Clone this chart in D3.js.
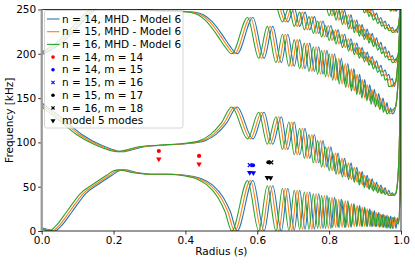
<!DOCTYPE html>
<html><head><meta charset="utf-8">
<script src="https://cdn.jsdelivr.net/npm/d3@7"></script>
<style>body{margin:0;background:#fff} svg{display:block;font-family:"DejaVu Sans",sans-serif}</style>
</head><body><svg id="c" width="415" height="264"></svg>
<script>
// ---------------- DATA ----------------
const seriesNames = ["n = 14, MHD - Model 6", "n = 15, MHD - Model 6", "n = 16, MHD - Model 6"];
// radial offset of each toroidal-mode continuum relative to n = 16
const seriesRadiusShift = [0.015, 0.008, 0.0];

// radii of the oscillation extrema of the n = 16 continuum
const oscRadius = [0.529, 0.573, 0.604, 0.628, 0.652, 0.670, 0.688, 0.703, 0.718, 0.731,
  0.744, 0.756, 0.768, 0.779, 0.790, 0.800, 0.810, 0.819, 0.828, 0.837,
  0.846, 0.854, 0.862, 0.870, 0.877, 0.884, 0.891, 0.898, 0.905, 0.911,
  0.917, 0.923, 0.929, 0.935, 0.941, 0.946, 0.951, 0.956, 0.961, 0.966,
  0.971, 0.976];

// branch 1 (lowest)
const branch1Lead = [[-0.02,4],[0,2],[0.01,1],[0.021,0],[0.04,6],[0.07,22],[0.107,42],[0.144,53],[0.181,63],[0.2,68],[0.215,69],[0.25,66],[0.3,64],[0.35,64],[0.4,62],[0.43,59],[0.46,52],[0.49,38],[0.51,22]];
const branch1Start = 0;
const branch1Osc = [0,57,0,51,0,48,1,46,2,44,2,42,3,40,3,38,4,36,4,34,4,31,5,29,5,27,5,25,5,23,5,21,5,19,4,18,4,17,3,16,3,15];
const branch1Tail = [[0.993,8],[0.997,40],[0.9995,260]];

// branch 2
const branch2Lead = [[-0.02,146],[0,140],[0.03,131],[0.06,121],[0.1,108],[0.15,97],[0.19,91],[0.21,89.5],[0.23,91],[0.27,95],[0.33,97],[0.40,99],[0.44,102],[0.47,109],[0.50,122]];
const branch2Start = 0;
const branch2Osc = [140,104,134,98,129,92,123,86,116,82,109,77,102,72,95,68,88,64,82,61,77,58,72,55,67,52,63,49,59,47,55,45,52,43,49,42,46,41,43,40];
const branch2Tail = [[0.985,42],[0.991,58],[0.996,110],[0.9995,260]];

// branch 3
const branch3Lead = [[-0.02,198],[0,202],[0.04,212],[0.08,228],[0.12,245],[0.16,256],[0.2,259],[0.25,252],[0.3,249],[0.36,248],[0.40,247.5],[0.43,245],[0.46,236],[0.49,220],[0.51,208]];
const branch3Start = 0;
const branch3Osc = [200,241,195,231,190,222,186,216,183,212,180,208,177,204,174,200,170,195,166,189,162,183,158,177,154,171,150,165,147,160,143,155,140,150,137,145,134,139,132,134];
const branch3Tail = [[0.985,140],[0.992,170],[0.997,220],[0.9995,260]];

// branch 4
const branch4Lead = [[0.64,262]];
const branch4Start = 4;
const branch4Osc = [255,236,252,231,247,227,242,223,237,219,232,215,227,211,222,207,217,203,212,199,207,195,202,191,197,187,192,183,187,179,182,175,177,170,172,163];
const branch4Tail = [[0.985,168],[0.992,195],[0.997,235],[0.9995,260]];

// branch 5
const branch5Lead = [[0.78,264]];
const branch5Start = 14;
const branch5Osc = [258,243,254,238,249,233,244,228,238,224,233,220,228,216,223,212,218,208,213,204,208,200,203,196,198,193,194,190];
const branch5Tail = [[0.993,200],[0.997,230],[0.9995,260]];

// branch 6
const branch6Lead = [[0.868,264]];
const branch6Start = 24;
const branch6Osc = [258,250,256,246,251,242,246,238,241,234,237,231,233,228,230,226,227,224];
const branch6Tail = [[0.993,232],[0.9975,250],[0.9995,262]];

// branch 7
const branch7Lead = [[0.94,264]];
const branch7Start = 35;
const branch7Osc = [258,253,256,250,253,248,250];
const branch7Tail = [[0.993,250],[0.998,262]];

// measured modes [radius, frequency kHz]
const modeN14M14 = [[0.326, 90.3], [0.438, 84.7]];
const modeN14M15 = [[0.588, 74.2]];
const modeN15M16 = [[0.579, 74.4]];
const modeN15M17 = [[0.631, 77.6]];
const modeN16M18 = [[0.639, 77.4]];
// model 5 modes (grouped by the mode they belong to)
const model5Red = [[0.326, 81.3], [0.438, 75.6]];
const model5Blue = [[0.579, 65.8], [0.589, 65.6]];
const model5Black = [[0.628, 60.2], [0.637, 60.0]];

const xTicks = [0, 0.2, 0.4, 0.6, 0.8, 1.0];
const yTicks = [0, 50, 100, 150, 200, 250];

// ---------------- STYLE / LAYOUT ----------------
const colors = ["#1f77b4", "#ff7f0e", "#2ca02c"];
const FS = 10.5;
const x = d3.scaleLinear().domain([0, 1]).range([41.7, 401]);
const y = d3.scaleLinear().domain([0, 250]).range([231, 9.5]);
const svg = d3.select("#c");

svg.append("defs").append("clipPath").attr("id", "clip")
  .append("rect").attr("x", x(0)).attr("y", y(250)).attr("width", x(1) - x(0)).attr("height", y(0) - y(250));

const branches = [
  [branch1Lead, branch1Start, branch1Osc, branch1Tail],
  [branch2Lead, branch2Start, branch2Osc, branch2Tail],
  [branch3Lead, branch3Start, branch3Osc, branch3Tail],
  [branch4Lead, branch4Start, branch4Osc, branch4Tail],
  [branch5Lead, branch5Start, branch5Osc, branch5Tail],
  [branch6Lead, branch6Start, branch6Osc, branch6Tail],
  [branch7Lead, branch7Start, branch7Osc, branch7Tail]
];

const line = d3.line().x(d => x(d[0])).y(d => y(d[1])).curve(d3.curveMonotoneX);
const gLines = svg.append("g").attr("clip-path", "url(#clip)");

seriesNames.forEach((name, si) => {
  const sh = seriesRadiusShift[si];
  branches.forEach(([lead, start, osc, tail]) => {
    const pts = lead.map(p => [p[0] + sh, p[1]])
      .concat(osc.map((f, i) => [oscRadius[start + i] + sh, f]))
      .concat(tail);
    gLines.append("path").datum(pts).attr("d", line)
      .attr("fill", "none").attr("stroke", colors[si]).attr("stroke-width", 1.1);
  });
});

// markers
const gM = svg.append("g");
function dots(data, color) {
  gM.selectAll(null).data(data).enter().append("circle")
    .attr("cx", d => x(d[0])).attr("cy", d => y(d[1])).attr("r", 2.1).attr("fill", color);
}
function crosses(data, color) {
  data.forEach(d => {
    const cx = x(d[0]), cy = y(d[1]), s = 1.9;
    gM.append("path").attr("d", `M${cx - s},${cy - s}L${cx + s},${cy + s}M${cx - s},${cy + s}L${cx + s},${cy - s}`)
      .attr("stroke", color).attr("stroke-width", 1.2);
  });
}
const tri = d3.symbol().type(d3.symbolTriangle).size(13);
function tris(data, color) {
  gM.selectAll(null).data(data).enter().append("path")
    .attr("d", tri).attr("transform", d => `translate(${x(d[0])},${y(d[1])}) rotate(180)`).attr("fill", color);
}
dots(modeN14M14, "red");
dots(modeN14M15, "blue");
crosses(modeN15M16, "blue");
dots(modeN15M17, "black");
crosses(modeN16M18, "black");
tris(model5Red, "red");
tris(model5Blue, "blue");
tris(model5Black, "black");

// axes
const xAxis = d3.axisBottom(x).tickValues(xTicks).tickFormat(d3.format(".1f")).tickSize(3.5).tickSizeOuter(0).tickPadding(2);
const yAxis = d3.axisLeft(y).tickValues(yTicks).tickFormat(d3.format("d")).tickSize(3.5).tickSizeOuter(0).tickPadding(2);
const gx = svg.append("g").attr("transform", `translate(0,${y(0)})`).call(xAxis);
const gy = svg.append("g").attr("transform", `translate(${x(0)},0)`).call(yAxis);
[gx, gy].forEach(g => {
  g.select(".domain").remove();
  g.selectAll("text").attr("font-size", FS).attr("fill", "#000").attr("font-family", "DejaVu Sans");
  g.selectAll("line").attr("stroke", "#000").attr("stroke-width", 0.8);
});
// frame
svg.append("rect").attr("x", x(0)).attr("y", y(250)).attr("width", x(1) - x(0)).attr("height", y(0) - y(250))
  .attr("fill", "none").attr("stroke", "#000").attr("stroke-width", 0.8);
svg.append("line").attr("x1", x(0)).attr("x2", x(0)).attr("y1", y(0)).attr("y2", y(250))
  .attr("stroke", "#999").attr("stroke-width", 2.2);

svg.append("text").attr("x", (x(0) + x(1)) / 2).attr("y", 255).attr("text-anchor", "middle")
  .attr("font-size", FS).text("Radius (s)");
svg.append("text").attr("transform", `translate(13,${(y(0) + y(250)) / 2}) rotate(-90)`).attr("text-anchor", "middle")
  .attr("font-size", FS).text("Frequency [kHz]");

// legend
const lg = svg.append("g");
lg.append("rect").attr("x", 44.5).attr("y", 10.5).attr("width", 138.5).attr("height", 117.5).attr("rx", 2)
  .attr("fill", "#fff").attr("fill-opacity", 0.8).attr("stroke", "#ccc").attr("stroke-width", 0.8);
const rowY = i => 19 + i * 12.7;
const legendItems = [
  {label: seriesNames[0], kind: "line", color: colors[0]},
  {label: seriesNames[1], kind: "line", color: colors[1]},
  {label: seriesNames[2], kind: "line", color: colors[2]},
  {label: "n = 14, m = 14", kind: "dot", color: "red"},
  {label: "n = 14, m = 15", kind: "dot", color: "blue"},
  {label: "n = 15, m = 16", kind: "x", color: "blue"},
  {label: "n = 15, m = 17", kind: "dot", color: "black"},
  {label: "n = 16, m = 18", kind: "x", color: "black"},
  {label: "model 5 modes", kind: "tri", color: "black"}
];
legendItems.forEach((it, i) => {
  const cy = rowY(i);
  if (it.kind === "line") lg.append("line").attr("x1", 47).attr("x2", 59.5).attr("y1", cy).attr("y2", cy).attr("stroke", it.color).attr("stroke-width", 1.1);
  else if (it.kind === "dot") lg.append("circle").attr("cx", 53).attr("cy", cy).attr("r", 1.8).attr("fill", it.color);
  else if (it.kind === "x") { const s = 1.6; lg.append("path").attr("d", `M${53 - s},${cy - s}L${53 + s},${cy + s}M${53 - s},${cy + s}L${53 + s},${cy - s}`).attr("stroke", it.color).attr("stroke-width", 1.1); }
  else lg.append("path").attr("d", d3.symbol().type(d3.symbolTriangle).size(11)).attr("transform", `translate(53,${cy}) rotate(180)`).attr("fill", it.color);
  lg.append("text").attr("x", 62).attr("y", cy).attr("dy", "0.35em").attr("font-size", FS).text(it.label);
});
</script></body></html>
